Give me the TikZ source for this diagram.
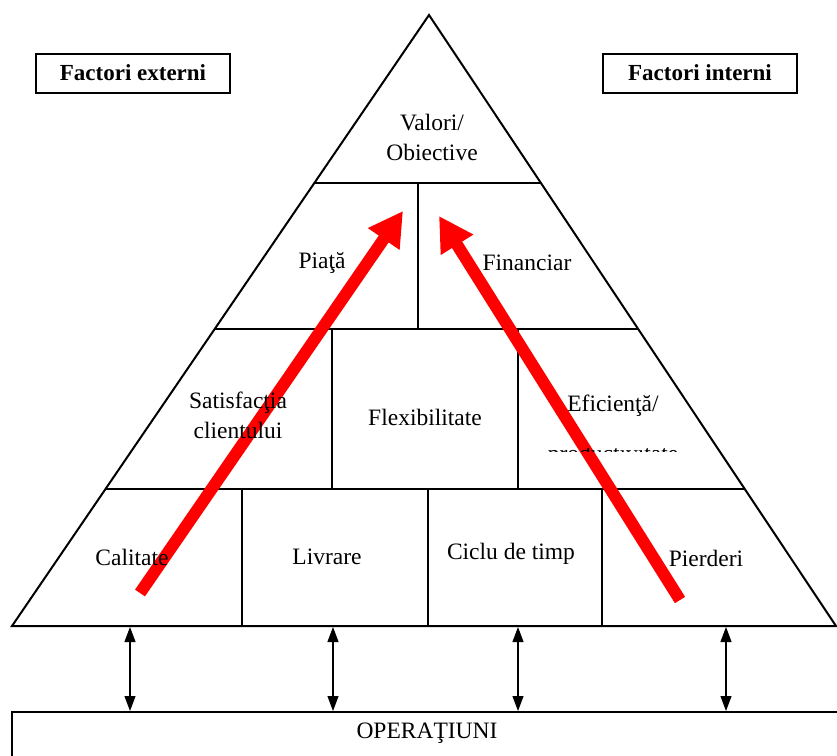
\documentclass[tikz,border=0pt]{standalone}
\usepackage{fontspec}
\setmainfont{Liberation Serif}
\usetikzlibrary{arrows.meta}
\tikzset{
  frame/.style={line width=2pt, line join=miter},
  lbl/.style={inner sep=0pt, align=center, font=\fontsize{23.5}{30}\selectfont},
  blbl/.style={draw, line width=2pt, minimum width=194pt, minimum height=39pt, inner sep=0pt, font=\fontsize{23}{25}\selectfont\bfseries},
  redarrow/.style={draw=red, line width=12pt, -{Triangle[length=34pt,width=36pt]}},
  link/.style={line width=1.1pt, {Triangle[length=15pt,width=11pt]}-{Triangle[length=15pt,width=11pt]}},
}
\begin{document}
\begin{tikzpicture}[x=1pt,y=-1pt]
\useasboundingbox (0,0) rectangle (837,755);
\clip (0,0) rectangle (837,755);
% pyramid outline
\coordinate (apex) at (429,15);
\coordinate (bl) at (12,626);
\coordinate (br) at (836,626);
\draw[frame] (apex) -- (bl) -- (br) -- cycle;
% level lines
\draw[frame] (314.5,183) -- (541,183);
\draw[frame] (214.7,329) -- (638,329);
\draw[frame] (105.5,489) -- (745,489);
% dividers
\draw[frame] (418,183) -- (418,329);
\draw[frame] (332,329) -- (332,489);
\draw[frame] (518,329) -- (518,489);
\draw[frame] (242,489) -- (242,626);
\draw[frame] (428,489) -- (428,626);
\draw[frame] (602,489) -- (602,626);
% operations box
\draw[frame] (12,765) |- (850,712);
\node[lbl] (ops) at (427,733) {OPERAŢIUNI};
% red arrows
\coordinate (ra1) at (140,593);
\coordinate (rt1) at (403,211);
\coordinate (ra2) at (680,600);
\coordinate (rt2) at (439,216);
\draw[redarrow] (ra1) -- (rt1);
\draw[redarrow] (ra2) -- (rt2);
% labels
\node[lbl] (val) at (432,137) {Valori/\\Obiective};
\node[lbl] (piata) at (322,263) {Piaţă};
\node[lbl] (fin) at (527,263) {Financiar};
\node[lbl] (sat) at (238,415) {Satisfacţia\\clientului};
\node[lbl] (flex) at (425,417) {Flexibilitate};
\node[lbl] (efi) at (613,406) {Eficienţă/};
\begin{scope}
\clip (540,448.5) rectangle (700,451.5);
\node[lbl, anchor=base] (prod) at (613,461) {productivitate};
\end{scope}
\node[lbl] (cal) at (132,557) {Calitate};
\node[lbl] (livr) at (327,557) {Livrare};
\node[lbl] (ciclu) at (511,554) {Ciclu de timp};
\node[lbl] (pier) at (706,558) {Pierderi};
\node[blbl] (ext) at (133,73) {Factori externi};
\node[blbl] (int) at (700,73) {Factori interni};
% links
\foreach \x [count=\i] in {130,333,518,726} {
  \coordinate (lt\i) at (\x,627);
  \coordinate (lb\i) at (\x,711);
  \draw[link] (lt\i) -- (lb\i);
}
\end{tikzpicture}
\end{document}
